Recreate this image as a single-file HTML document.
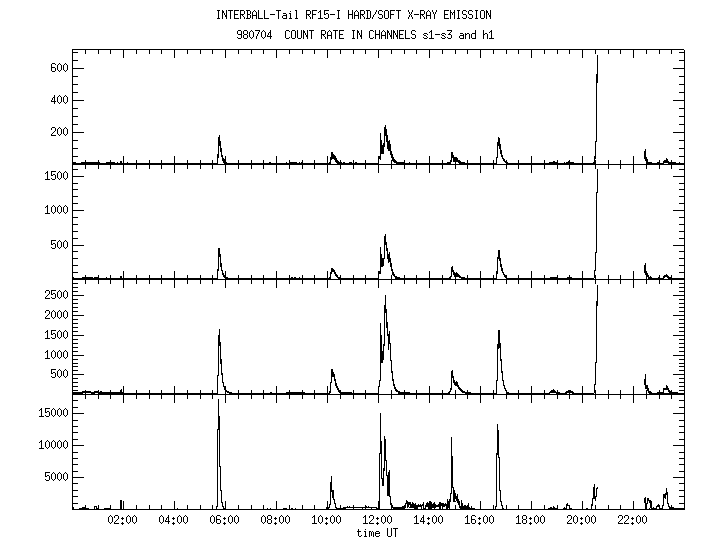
<!DOCTYPE html>
<html lang="en">
<head>
<meta charset="utf-8">
<title>INTERBALL-Tail RF15-I HARD/SOFT X-RAY EMISSION</title>
<style>
html,body{margin:0;padding:0;background:#fff;}
body{width:720px;height:550px;overflow:hidden;font-family:"Liberation Mono",monospace;}
svg{display:block;position:absolute;left:0;top:0;}
svg text{font-family:"Liberation Mono",monospace;font-size:10px;fill:#000;fill-opacity:0;white-space:pre;}
</style>
</head>
<body>
<svg width="720" height="550" viewBox="0 0 720 550" shape-rendering="crispEdges">
<rect width="720" height="550" fill="#fff"/>
<g xml:space="preserve">
<text x="216" y="19" textLength="276" lengthAdjust="spacingAndGlyphs">INTERBALL-Tail RF15-I HARD/SOFT X-RAY EMISSION</text>
<text x="237" y="39" textLength="258" lengthAdjust="spacingAndGlyphs">980704  COUNT RATE IN CHANNELS s1-s3 and h1</text>
<text x="357" y="537" textLength="42" lengthAdjust="spacingAndGlyphs">time UT</text>
<text x="108" y="524" textLength="30" lengthAdjust="spacingAndGlyphs">02:00</text>
<text x="159" y="524" textLength="30" lengthAdjust="spacingAndGlyphs">04:00</text>
<text x="210" y="524" textLength="30" lengthAdjust="spacingAndGlyphs">06:00</text>
<text x="261" y="524" textLength="30" lengthAdjust="spacingAndGlyphs">08:00</text>
<text x="312" y="524" textLength="30" lengthAdjust="spacingAndGlyphs">10:00</text>
<text x="363" y="524" textLength="30" lengthAdjust="spacingAndGlyphs">12:00</text>
<text x="414" y="524" textLength="30" lengthAdjust="spacingAndGlyphs">14:00</text>
<text x="465" y="524" textLength="30" lengthAdjust="spacingAndGlyphs">16:00</text>
<text x="516" y="524" textLength="30" lengthAdjust="spacingAndGlyphs">18:00</text>
<text x="567" y="524" textLength="30" lengthAdjust="spacingAndGlyphs">20:00</text>
<text x="618" y="524" textLength="30" lengthAdjust="spacingAndGlyphs">22:00</text>
<text x="51" y="136" textLength="18" lengthAdjust="spacingAndGlyphs">200</text>
<text x="51" y="104" textLength="18" lengthAdjust="spacingAndGlyphs">400</text>
<text x="51" y="72" textLength="18" lengthAdjust="spacingAndGlyphs">600</text>
<text x="51" y="249" textLength="18" lengthAdjust="spacingAndGlyphs">500</text>
<text x="45" y="214" textLength="24" lengthAdjust="spacingAndGlyphs">1000</text>
<text x="45" y="180" textLength="24" lengthAdjust="spacingAndGlyphs">1500</text>
<text x="51" y="378" textLength="18" lengthAdjust="spacingAndGlyphs">500</text>
<text x="45" y="359" textLength="24" lengthAdjust="spacingAndGlyphs">1000</text>
<text x="45" y="339" textLength="24" lengthAdjust="spacingAndGlyphs">1500</text>
<text x="45" y="319" textLength="24" lengthAdjust="spacingAndGlyphs">2000</text>
<text x="45" y="299" textLength="24" lengthAdjust="spacingAndGlyphs">2500</text>
<text x="45" y="481" textLength="24" lengthAdjust="spacingAndGlyphs">5000</text>
<text x="39" y="449" textLength="30" lengthAdjust="spacingAndGlyphs">10000</text>
<text x="39" y="417" textLength="30" lengthAdjust="spacingAndGlyphs">15000</text>
</g>
<path fill="#000" d="M217 10h3v1h-3zM217 18h3v1h-3zM217 429h3v1h-3zM217 515h3v1h-3zM217 523h3v1h-3zM222 10h1v1h-1zM222 13h1v6h-1zM222 157h1v1h-1zM222 271h1v2h-1zM222 375h1v7h-1zM222 503h1v3h-1zM226 10h1v5h-1zM226 17h1v2h-1zM228 10h5v1h-5zM234 10h5v1h-5zM234 18h5v1h-5zM240 10h4v1h-4zM240 14h4v1h-4zM246 10h4v1h-4zM246 18h4v1h-4zM254 10h1v1h-1zM258 10h1v8h-1zM258 32h1v2h-1zM264 10h1v8h-1zM264 31h1v1h-1zM264 37h1v1h-1zM264 516h1v1h-1zM264 522h1v1h-1zM276 10h5v1h-5zM295 10h2v1h-2zM306 10h4v1h-4zM306 14h4v1h-4zM312 10h5v1h-5zM312 523h5v1h-5zM320 10h1v1h-1zM320 12h1v6h-1zM320 515h1v1h-1zM320 523h1v1h-1zM324 10h5v1h-5zM337 10h3v1h-3zM337 18h3v1h-3zM348 10h1v4h-1zM348 15h1v4h-1zM352 10h1v4h-1zM352 15h1v4h-1zM356 10h1v1h-1zM360 10h4v1h-4zM360 14h4v1h-4zM366 10h4v1h-4zM366 18h4v1h-4zM376 10h1v2h-1zM379 10h3v1h-3zM379 14h3v1h-3zM379 18h3v1h-3zM379 453h3v1h-3zM385 10h3v1h-3zM385 18h3v1h-3zM390 10h5v1h-5zM396 10h5v1h-5zM408 10h1v2h-1zM408 17h1v2h-1zM412 10h1v2h-1zM412 17h1v2h-1zM412 502h1v1h-1zM420 10h4v1h-4zM420 14h4v1h-4zM428 10h1v1h-1zM428 517h1v1h-1zM428 519h1v1h-1zM428 522h1v1h-1zM428 524h1v1h-1zM432 10h1v2h-1zM432 517h1v5h-1zM436 10h1v2h-1zM436 517h1v5h-1zM444 10h5v1h-5zM444 18h5v1h-5zM450 10h1v2h-1zM450 13h1v6h-1zM450 32h1v1h-1zM450 390h1v1h-1zM450 494h1v5h-1zM454 10h1v2h-1zM454 13h1v6h-1zM457 10h3v1h-3zM457 18h3v1h-3zM457 501h3v2h-3zM463 10h3v1h-3zM463 14h3v1h-3zM463 18h3v1h-3zM469 10h3v1h-3zM469 14h3v1h-3zM469 18h3v1h-3zM475 10h3v1h-3zM475 18h3v1h-3zM481 10h3v1h-3zM481 18h3v1h-3zM486 10h1v1h-1zM486 13h1v6h-1zM486 516h1v1h-1zM486 522h1v1h-1zM490 10h1v5h-1zM490 17h1v2h-1zM490 516h1v1h-1zM490 522h1v1h-1zM218 11h1v7h-1zM218 146h1v8h-1zM218 257h1v12h-1zM218 346h1v29h-1zM218 399h1v17h-1zM222 11h2v2h-2zM222 158h2v1h-2zM222 273h2v2h-2zM222 382h2v1h-2zM222 506h2v1h-2zM230 11h1v8h-1zM230 515h1v1h-1zM230 523h1v1h-1zM234 11h1v3h-1zM234 15h1v3h-1zM234 517h1v5h-1zM240 11h1v3h-1zM240 15h1v4h-1zM244 11h1v3h-1zM244 17h1v2h-1zM247 11h1v3h-1zM247 15h1v3h-1zM247 31h1v3h-1zM247 35h1v3h-1zM250 11h1v3h-1zM250 15h1v3h-1zM250 31h1v1h-1zM250 37h1v1h-1zM253 11h1v1h-1zM253 32h1v5h-1zM255 11h1v1h-1zM278 11h1v8h-1zM290 11h1v1h-1zM290 14h1v4h-1zM296 11h1v7h-1zM306 11h1v3h-1zM306 15h1v4h-1zM310 11h1v3h-1zM310 17h1v2h-1zM312 11h1v3h-1zM312 15h1v4h-1zM312 517h1v1h-1zM319 11h2v1h-2zM324 11h1v3h-1zM324 17h1v1h-1zM324 36h1v1h-1zM338 11h1v7h-1zM338 515h1v1h-1zM338 523h1v1h-1zM355 11h1v1h-1zM357 11h1v1h-1zM357 30h1v1h-1zM357 33h1v6h-1zM360 11h1v3h-1zM360 15h1v4h-1zM364 11h1v3h-1zM364 17h1v2h-1zM367 11h1v7h-1zM370 11h1v7h-1zM370 521h1v1h-1zM378 11h1v3h-1zM378 17h1v1h-1zM378 50h1v8h-1zM378 159h1v4h-1zM378 165h1v8h-1zM378 274h1v4h-1zM378 280h1v8h-1zM378 387h1v6h-1zM378 395h1v8h-1zM382 11h1v1h-1zM382 15h1v3h-1zM382 31h1v1h-1zM382 516h1v1h-1zM382 522h1v1h-1zM384 11h1v7h-1zM384 31h1v1h-1zM384 136h1v7h-1zM384 245h1v13h-1zM384 313h1v31h-1zM384 436h1v3h-1zM384 461h1v7h-1zM384 516h1v1h-1zM384 522h1v1h-1zM388 11h1v7h-1zM388 262h1v1h-1zM388 344h1v6h-1zM388 516h1v1h-1zM388 522h1v1h-1zM390 11h1v3h-1zM390 15h1v4h-1zM390 262h1v1h-1zM390 344h1v16h-1zM390 497h1v6h-1zM390 516h1v1h-1zM390 522h1v1h-1zM398 11h1v8h-1zM420 11h1v3h-1zM420 15h1v4h-1zM420 504h1v1h-1zM420 520h1v1h-1zM424 11h1v3h-1zM424 17h1v2h-1zM427 11h1v1h-1zM427 34h1v1h-1zM427 37h1v1h-1zM427 502h1v1h-1zM429 11h1v1h-1zM429 32h1v1h-1zM429 50h1v8h-1zM429 156h1v7h-1zM429 165h1v8h-1zM429 271h1v7h-1zM429 280h1v8h-1zM429 386h1v7h-1zM429 395h1v8h-1zM444 11h1v3h-1zM444 15h1v3h-1zM444 36h1v1h-1zM458 11h1v7h-1zM462 11h1v3h-1zM462 17h1v1h-1zM466 11h1v1h-1zM466 15h1v3h-1zM468 11h1v3h-1zM468 17h1v1h-1zM468 503h1v2h-1zM472 11h1v1h-1zM472 15h1v3h-1zM476 11h1v7h-1zM480 11h1v7h-1zM480 50h1v8h-1zM480 156h1v7h-1zM480 165h1v8h-1zM480 271h1v7h-1zM480 280h1v8h-1zM480 386h1v7h-1zM480 395h1v8h-1zM480 501h1v8h-1zM484 11h1v7h-1zM484 516h1v1h-1zM484 522h1v1h-1zM486 11h2v2h-2zM252 12h1v3h-1zM252 16h1v3h-1zM252 31h1v1h-1zM252 37h1v1h-1zM256 12h1v3h-1zM256 16h1v3h-1zM256 36h1v3h-1zM318 12h1v1h-1zM318 517h1v5h-1zM354 12h1v3h-1zM354 16h1v3h-1zM358 12h1v3h-1zM358 16h1v3h-1zM358 529h1v2h-1zM358 532h1v4h-1zM375 12h1v2h-1zM375 30h1v4h-1zM375 35h1v4h-1zM375 532h1v1h-1zM375 534h1v2h-1zM409 12h1v2h-1zM409 15h1v2h-1zM409 162h1v1h-1zM411 12h1v2h-1zM411 15h1v2h-1zM411 31h1v3h-1zM411 37h1v1h-1zM426 12h1v3h-1zM426 16h1v3h-1zM426 36h1v1h-1zM430 12h1v3h-1zM430 16h1v3h-1zM433 12h1v2h-1zM433 516h1v1h-1zM433 522h1v1h-1zM435 12h1v2h-1zM435 516h1v1h-1zM435 522h1v1h-1zM450 12h2v1h-2zM450 160h2v2h-2zM450 276h2v1h-2zM450 388h2v2h-2zM450 493h2v1h-2zM453 12h2v1h-2zM453 272h2v1h-2zM453 380h2v2h-2zM453 490h2v3h-2zM453 499h2v2h-2zM224 13h1v2h-1zM224 517h1v1h-1zM224 519h1v1h-1zM224 522h1v1h-1zM224 524h1v1h-1zM283 13h3v1h-3zM289 13h2v1h-2zM326 13h2v1h-2zM452 13h1v2h-1zM452 266h1v1h-1zM452 370h1v1h-1zM488 13h1v2h-1zM234 14h4v1h-4zM247 14h3v1h-3zM270 14h5v1h-5zM286 14h1v1h-1zM286 16h1v2h-1zM286 162h1v1h-1zM286 516h1v1h-1zM286 522h1v1h-1zM312 14h4v1h-4zM324 14h2v1h-2zM328 14h1v4h-1zM328 31h1v1h-1zM330 14h5v1h-5zM348 14h5v1h-5zM374 14h1v1h-1zM390 14h4v1h-4zM410 14h1v1h-1zM414 14h5v1h-5zM414 523h5v1h-5zM434 14h1v5h-1zM434 502h1v1h-1zM434 508h1v1h-1zM434 515h1v1h-1zM434 523h1v1h-1zM444 14h4v1h-4zM225 15h2v2h-2zM225 390h2v1h-2zM242 15h1v1h-1zM252 15h5v1h-5zM283 15h4v1h-4zM283 18h4v1h-4zM283 508h4v1h-4zM308 15h1v1h-1zM354 15h5v1h-5zM362 15h1v1h-1zM362 508h1v1h-1zM373 15h1v2h-1zM373 31h1v1h-1zM373 37h1v1h-1zM373 516h1v3h-1zM373 532h1v5h-1zM422 15h1v1h-1zM426 15h5v1h-5zM489 15h2v2h-2zM243 16h1v1h-1zM243 31h1v3h-1zM243 35h1v3h-1zM282 16h1v2h-1zM282 516h1v1h-1zM282 522h1v1h-1zM309 16h1v1h-1zM363 16h1v1h-1zM363 517h1v1h-1zM423 16h1v1h-1zM423 34h1v1h-1zM423 37h1v1h-1zM423 502h1v2h-1zM423 506h1v2h-1zM423 515h1v2h-1zM423 518h1v3h-1zM423 522h1v2h-1zM372 17h1v2h-1zM372 519h1v1h-1zM372 531h1v1h-1zM258 18h5v1h-5zM264 18h5v1h-5zM289 18h3v1h-3zM295 18h3v1h-3zM318 18h5v1h-5zM325 18h3v1h-3zM325 518h3v1h-3zM325 523h3v1h-3zM238 30h3v1h-3zM238 38h3v1h-3zM244 30h3v1h-3zM244 34h3v1h-3zM244 38h3v1h-3zM251 30h1v1h-1zM251 38h1v1h-1zM251 50h1v4h-1zM251 160h1v3h-1zM251 165h1v4h-1zM251 275h1v3h-1zM251 280h1v4h-1zM251 390h1v3h-1zM251 395h1v4h-1zM251 505h1v4h-1zM255 30h5v1h-5zM263 30h1v1h-1zM263 38h1v1h-1zM263 50h1v4h-1zM263 160h1v3h-1zM263 165h1v4h-1zM263 275h1v3h-1zM263 280h1v4h-1zM263 390h1v3h-1zM263 395h1v4h-1zM263 505h1v4h-1zM263 515h1v1h-1zM263 523h1v1h-1zM270 30h1v2h-1zM270 33h1v3h-1zM270 37h1v2h-1zM270 508h1v1h-1zM286 30h3v1h-3zM286 38h3v1h-3zM292 30h3v1h-3zM292 38h3v1h-3zM297 30h1v8h-1zM301 30h1v8h-1zM303 30h1v1h-1zM303 33h1v6h-1zM307 30h1v5h-1zM307 37h1v2h-1zM309 30h5v1h-5zM321 30h4v1h-4zM321 34h4v1h-4zM329 30h1v1h-1zM329 505h1v2h-1zM333 30h5v1h-5zM339 30h5v1h-5zM339 38h5v1h-5zM352 30h3v1h-3zM352 38h3v1h-3zM361 30h1v5h-1zM361 37h1v2h-1zM361 535h1v1h-1zM370 30h3v1h-3zM370 38h3v1h-3zM370 515h3v1h-3zM379 30h1v4h-1zM379 35h1v4h-1zM379 381h1v5h-1zM379 454h1v47h-1zM379 532h1v1h-1zM379 535h1v1h-1zM383 30h1v1h-1zM383 346h1v5h-1zM383 471h1v7h-1zM383 515h1v1h-1zM383 523h1v1h-1zM387 30h1v1h-1zM387 33h1v6h-1zM387 251h1v3h-1zM387 328h1v6h-1zM387 517h1v5h-1zM387 528h1v8h-1zM391 30h1v5h-1zM391 37h1v2h-1zM391 50h1v4h-1zM391 161h1v3h-1zM391 165h1v4h-1zM391 267h1v2h-1zM391 275h1v4h-1zM391 280h1v4h-1zM391 361h1v10h-1zM391 390h1v4h-1zM391 395h1v4h-1zM391 508h1v1h-1zM391 517h1v5h-1zM391 528h1v8h-1zM393 30h1v1h-1zM393 33h1v6h-1zM393 381h1v3h-1zM397 30h1v5h-1zM397 37h1v2h-1zM399 30h5v1h-5zM399 38h5v1h-5zM405 30h1v8h-1zM405 504h1v1h-1zM412 30h3v1h-3zM412 34h3v1h-3zM412 38h3v1h-3zM431 30h1v1h-1zM431 32h1v6h-1zM447 30h5v1h-5zM475 30h1v3h-1zM475 34h1v4h-1zM475 516h1v1h-1zM475 520h1v3h-1zM483 30h1v4h-1zM483 35h1v4h-1zM483 517h1v5h-1zM491 30h1v1h-1zM491 32h1v6h-1zM491 515h1v1h-1zM491 523h1v1h-1zM237 31h1v3h-1zM237 37h1v1h-1zM237 516h1v1h-1zM237 522h1v1h-1zM241 31h1v3h-1zM241 35h1v3h-1zM259 31h1v1h-1zM262 31h1v1h-1zM262 37h1v1h-1zM262 516h1v1h-1zM262 522h1v1h-1zM285 31h1v7h-1zM285 517h1v5h-1zM289 31h1v1h-1zM289 37h1v1h-1zM289 50h1v4h-1zM289 160h1v2h-1zM289 165h1v4h-1zM289 275h1v3h-1zM289 280h1v4h-1zM289 390h1v2h-1zM289 395h1v4h-1zM289 505h1v4h-1zM289 517h1v5h-1zM291 31h1v7h-1zM295 31h1v7h-1zM295 508h1v1h-1zM303 31h2v2h-2zM311 31h1v8h-1zM321 31h1v3h-1zM321 35h1v4h-1zM321 516h1v1h-1zM321 522h1v1h-1zM325 31h1v3h-1zM325 37h1v2h-1zM330 31h1v1h-1zM330 160h1v2h-1zM330 274h1v3h-1zM330 383h1v8h-1zM330 492h1v12h-1zM330 517h1v5h-1zM335 31h1v8h-1zM335 381h1v2h-1zM335 504h1v3h-1zM339 31h1v3h-1zM339 35h1v3h-1zM339 516h1v1h-1zM339 522h1v1h-1zM353 31h1v7h-1zM353 50h1v4h-1zM353 160h1v3h-1zM353 165h1v4h-1zM353 275h1v3h-1zM353 280h1v4h-1zM353 390h1v3h-1zM353 395h1v4h-1zM353 505h1v2h-1zM353 508h1v1h-1zM357 31h2v2h-2zM369 31h1v7h-1zM369 516h1v2h-1zM369 522h1v1h-1zM369 532h1v5h-1zM387 31h2v2h-2zM393 31h2v2h-2zM393 275h2v1h-2zM393 384h2v2h-2zM399 31h1v3h-1zM399 35h1v3h-1zM415 31h1v1h-1zM415 35h1v3h-1zM415 503h1v1h-1zM430 31h2v1h-2zM451 31h1v1h-1zM451 35h1v3h-1zM451 158h1v2h-1zM451 272h1v4h-1zM451 378h1v10h-1zM451 437h1v19h-1zM451 488h1v5h-1zM490 31h2v1h-2zM249 32h1v5h-1zM261 32h1v5h-1zM261 517h1v5h-1zM265 32h1v5h-1zM265 517h1v5h-1zM269 32h2v1h-2zM269 162h2v1h-2zM327 32h1v3h-1zM327 36h1v3h-1zM327 50h1v8h-1zM327 156h1v7h-1zM327 165h1v8h-1zM327 271h1v7h-1zM327 280h1v8h-1zM327 386h1v7h-1zM327 395h1v8h-1zM327 501h1v6h-1zM331 32h1v3h-1zM331 36h1v3h-1zM331 377h1v5h-1zM331 476h1v6h-1zM331 516h1v1h-1zM331 522h1v1h-1zM381 32h1v3h-1zM381 36h1v3h-1zM381 454h1v24h-1zM381 517h1v5h-1zM385 32h1v3h-1zM385 36h1v3h-1zM385 125h1v2h-1zM385 234h1v2h-1zM385 295h1v10h-1zM385 517h1v5h-1zM489 32h1v1h-1zM489 517h1v5h-1zM268 33h1v2h-1zM305 33h1v2h-1zM359 33h1v2h-1zM389 33h1v2h-1zM389 140h1v1h-1zM389 252h1v2h-1zM389 331h1v3h-1zM389 470h1v2h-1zM389 515h1v1h-1zM389 523h1v1h-1zM395 33h1v2h-1zM395 529h1v8h-1zM424 33h3v1h-3zM424 38h3v1h-3zM442 33h3v1h-3zM442 38h3v1h-3zM442 506h3v1h-3zM449 33h1v1h-1zM449 508h1v1h-1zM460 33h3v1h-3zM460 390h3v1h-3zM465 33h1v1h-1zM465 35h1v4h-1zM465 517h1v1h-1zM467 33h2v1h-2zM467 505h2v1h-2zM472 33h4v1h-4zM472 38h4v1h-4zM485 33h2v1h-2zM238 34h4v1h-4zM257 34h1v2h-1zM339 34h4v1h-4zM375 34h5v1h-5zM375 533h5v1h-5zM399 34h4v1h-4zM435 34h5v1h-5zM441 34h1v1h-1zM441 37h1v1h-1zM441 516h1v1h-1zM441 522h1v1h-1zM445 34h1v1h-1zM445 37h1v1h-1zM445 503h1v1h-1zM448 34h3v1h-3zM448 38h3v1h-3zM463 34h1v1h-1zM463 36h1v2h-1zM465 34h2v1h-2zM469 34h1v5h-1zM471 34h1v4h-1zM471 506h1v2h-1zM471 516h1v3h-1zM471 520h1v3h-1zM483 34h2v1h-2zM487 34h1v5h-1zM487 517h1v5h-1zM267 35h1v1h-1zM267 508h1v1h-1zM267 516h1v3h-1zM267 520h1v3h-1zM306 35h2v2h-2zM323 35h1v1h-1zM327 35h5v1h-5zM360 35h2v2h-2zM381 35h5v1h-5zM390 35h2v2h-2zM390 151h2v3h-2zM390 263h2v4h-2zM390 360h2v1h-2zM390 503h2v2h-2zM396 35h2v2h-2zM424 35h2v1h-2zM442 35h2v1h-2zM460 35h4v1h-4zM460 38h4v1h-4zM267 36h5v1h-5zM459 36h1v2h-1zM459 505h1v1h-1zM447 37h1v1h-1zM447 499h1v2h-1zM298 38h3v1h-3zM405 38h5v1h-5zM429 38h5v1h-5zM489 38h5v1h-5zM72 49h612v1h-612zM72 50h1v2h-1zM72 53h1v7h-1zM72 61h1v7h-1zM72 69h1v7h-1zM72 77h1v7h-1zM72 85h1v7h-1zM72 93h1v7h-1zM72 101h1v7h-1zM72 109h1v7h-1zM72 117h1v7h-1zM72 125h1v7h-1zM72 133h1v7h-1zM72 141h1v7h-1zM72 149h1v7h-1zM72 157h1v5h-1zM72 165h1v4h-1zM72 170h1v6h-1zM72 177h1v6h-1zM72 184h1v5h-1zM72 190h1v6h-1zM72 197h1v6h-1zM72 204h1v6h-1zM72 211h1v6h-1zM72 218h1v6h-1zM72 225h1v6h-1zM72 232h1v6h-1zM72 239h1v6h-1zM72 246h1v5h-1zM72 252h1v6h-1zM72 259h1v6h-1zM72 266h1v6h-1zM72 273h1v4h-1zM72 280h1v3h-1zM72 284h1v3h-1zM72 288h1v3h-1zM72 292h1v3h-1zM72 296h1v3h-1zM72 300h1v3h-1zM72 304h1v3h-1zM72 308h1v3h-1zM72 312h1v3h-1zM72 316h1v3h-1zM72 320h1v3h-1zM72 324h1v3h-1zM72 328h1v3h-1zM72 332h1v3h-1zM72 336h1v3h-1zM72 340h1v3h-1zM72 344h1v3h-1zM72 348h1v3h-1zM72 352h1v3h-1zM72 356h1v3h-1zM72 360h1v3h-1zM72 364h1v2h-1zM72 367h1v3h-1zM72 371h1v3h-1zM72 375h1v3h-1zM72 379h1v3h-1zM72 383h1v3h-1zM72 387h1v3h-1zM72 391h1v1h-1zM72 395h1v5h-1zM72 401h1v6h-1zM72 408h1v5h-1zM72 414h1v6h-1zM72 421h1v5h-1zM72 427h1v5h-1zM72 433h1v6h-1zM72 440h1v5h-1zM72 446h1v6h-1zM72 453h1v5h-1zM72 459h1v5h-1zM72 465h1v6h-1zM72 472h1v5h-1zM72 478h1v5h-1zM72 484h1v6h-1zM72 491h1v5h-1zM72 497h1v6h-1zM72 504h1v3h-1zM85 50h1v4h-1zM85 160h1v2h-1zM85 165h1v4h-1zM85 275h1v2h-1zM85 280h1v4h-1zM85 390h1v1h-1zM85 393h1v1h-1zM85 395h1v4h-1zM85 505h1v2h-1zM98 50h1v4h-1zM98 160h1v2h-1zM98 165h1v4h-1zM98 275h1v2h-1zM98 280h1v4h-1zM98 390h1v1h-1zM98 395h1v4h-1zM98 505h1v3h-1zM110 50h1v4h-1zM110 160h1v2h-1zM110 165h1v4h-1zM110 275h1v3h-1zM110 280h1v4h-1zM110 390h1v2h-1zM110 395h1v4h-1zM110 505h1v3h-1zM110 515h1v1h-1zM110 523h1v1h-1zM123 50h1v8h-1zM123 156h1v7h-1zM123 165h1v8h-1zM123 271h1v7h-1zM123 280h1v8h-1zM123 386h1v6h-1zM123 395h1v8h-1zM123 501h1v8h-1zM136 50h1v4h-1zM136 160h1v3h-1zM136 165h1v4h-1zM136 275h1v3h-1zM136 280h1v4h-1zM136 390h1v3h-1zM136 395h1v4h-1zM136 505h1v4h-1zM136 517h1v5h-1zM149 50h1v4h-1zM149 160h1v3h-1zM149 165h1v4h-1zM149 275h1v3h-1zM149 280h1v4h-1zM149 390h1v3h-1zM149 395h1v4h-1zM149 505h1v4h-1zM161 50h1v4h-1zM161 160h1v3h-1zM161 165h1v4h-1zM161 275h1v3h-1zM161 280h1v4h-1zM161 390h1v3h-1zM161 395h1v4h-1zM161 505h1v4h-1zM161 515h1v1h-1zM161 523h1v1h-1zM174 50h1v8h-1zM174 156h1v7h-1zM174 165h1v8h-1zM174 271h1v7h-1zM174 280h1v8h-1zM174 386h1v7h-1zM174 395h1v8h-1zM174 501h1v8h-1zM187 50h1v4h-1zM187 160h1v3h-1zM187 165h1v4h-1zM187 275h1v3h-1zM187 280h1v4h-1zM187 390h1v3h-1zM187 395h1v4h-1zM187 505h1v4h-1zM187 517h1v5h-1zM200 50h1v4h-1zM200 160h1v3h-1zM200 165h1v4h-1zM200 275h1v3h-1zM200 280h1v4h-1zM200 390h1v3h-1zM200 395h1v4h-1zM200 505h1v4h-1zM212 50h1v4h-1zM212 160h1v3h-1zM212 165h1v4h-1zM212 275h1v3h-1zM212 280h1v4h-1zM212 390h1v3h-1zM212 395h1v4h-1zM212 505h1v4h-1zM212 515h1v1h-1zM212 523h1v1h-1zM225 50h1v8h-1zM225 156h1v3h-1zM225 165h1v8h-1zM225 271h1v4h-1zM225 280h1v8h-1zM225 392h1v2h-1zM225 395h1v8h-1zM225 501h1v7h-1zM238 50h1v4h-1zM238 160h1v3h-1zM238 165h1v4h-1zM238 275h1v3h-1zM238 280h1v4h-1zM238 390h1v3h-1zM238 395h1v4h-1zM238 505h1v4h-1zM238 517h1v5h-1zM276 50h1v8h-1zM276 156h1v7h-1zM276 165h1v8h-1zM276 271h1v7h-1zM276 280h1v8h-1zM276 386h1v7h-1zM276 395h1v8h-1zM276 501h1v8h-1zM302 50h1v4h-1zM302 160h1v2h-1zM302 165h1v4h-1zM302 275h1v3h-1zM302 280h1v4h-1zM302 390h1v2h-1zM302 395h1v4h-1zM302 505h1v4h-1zM314 50h1v4h-1zM314 160h1v3h-1zM314 165h1v4h-1zM314 275h1v3h-1zM314 280h1v4h-1zM314 390h1v3h-1zM314 395h1v4h-1zM314 505h1v4h-1zM314 515h1v1h-1zM314 517h1v6h-1zM340 50h1v4h-1zM340 160h1v2h-1zM340 165h1v4h-1zM340 275h1v2h-1zM340 280h1v4h-1zM340 395h1v4h-1zM340 505h1v3h-1zM340 517h1v5h-1zM365 50h1v4h-1zM365 160h1v3h-1zM365 165h1v4h-1zM365 275h1v3h-1zM365 280h1v4h-1zM365 390h1v3h-1zM365 395h1v4h-1zM365 505h1v1h-1zM365 508h1v1h-1zM365 515h1v1h-1zM365 517h1v6h-1zM365 529h1v1h-1zM365 532h1v4h-1zM404 50h1v4h-1zM404 160h1v2h-1zM404 165h1v4h-1zM404 275h1v3h-1zM404 280h1v4h-1zM404 390h1v2h-1zM404 395h1v4h-1zM416 50h1v4h-1zM416 160h1v3h-1zM416 165h1v4h-1zM416 275h1v3h-1zM416 280h1v4h-1zM416 390h1v3h-1zM416 395h1v4h-1zM416 515h1v1h-1zM416 517h1v6h-1zM442 50h1v4h-1zM442 160h1v3h-1zM442 165h1v4h-1zM442 275h1v3h-1zM442 280h1v4h-1zM442 390h1v3h-1zM442 395h1v4h-1zM442 507h1v2h-1zM442 517h1v5h-1zM455 50h1v4h-1zM455 162h1v2h-1zM455 165h1v4h-1zM455 277h1v2h-1zM455 280h1v4h-1zM455 390h1v4h-1zM455 395h1v4h-1zM455 505h1v4h-1zM467 50h1v4h-1zM467 160h1v3h-1zM467 165h1v4h-1zM467 275h1v3h-1zM467 280h1v4h-1zM467 390h1v2h-1zM467 395h1v4h-1zM467 515h1v1h-1zM467 517h1v6h-1zM493 50h1v4h-1zM493 160h1v3h-1zM493 165h1v4h-1zM493 275h1v3h-1zM493 280h1v4h-1zM493 390h1v3h-1zM493 395h1v4h-1zM493 505h1v4h-1zM493 517h1v5h-1zM506 50h1v4h-1zM506 160h1v1h-1zM506 165h1v4h-1zM506 280h1v4h-1zM506 391h1v1h-1zM506 395h1v4h-1zM506 505h1v4h-1zM518 50h1v4h-1zM518 160h1v3h-1zM518 165h1v4h-1zM518 275h1v3h-1zM518 280h1v4h-1zM518 390h1v3h-1zM518 395h1v4h-1zM518 505h1v4h-1zM518 515h1v1h-1zM518 517h1v6h-1zM531 50h1v8h-1zM531 156h1v7h-1zM531 165h1v8h-1zM531 271h1v7h-1zM531 280h1v8h-1zM531 386h1v7h-1zM531 395h1v8h-1zM531 501h1v8h-1zM544 50h1v4h-1zM544 160h1v3h-1zM544 165h1v4h-1zM544 275h1v3h-1zM544 280h1v4h-1zM544 390h1v3h-1zM544 395h1v4h-1zM544 505h1v4h-1zM544 517h1v5h-1zM557 50h1v4h-1zM557 160h1v2h-1zM557 165h1v4h-1zM557 275h1v2h-1zM557 280h1v4h-1zM557 390h1v2h-1zM557 395h1v4h-1zM557 505h1v3h-1zM569 50h1v4h-1zM569 160h1v1h-1zM569 165h1v4h-1zM569 275h1v2h-1zM569 280h1v4h-1zM569 393h1v1h-1zM569 395h1v4h-1zM569 506h1v2h-1zM569 520h1v1h-1zM582 50h1v8h-1zM582 156h1v7h-1zM582 165h1v8h-1zM582 271h1v7h-1zM582 280h1v8h-1zM582 386h1v7h-1zM582 395h1v8h-1zM582 501h1v8h-1zM595 50h1v4h-1zM595 142h1v14h-1zM595 165h1v4h-1zM595 253h1v17h-1zM595 278h1v1h-1zM595 280h1v4h-1zM595 363h1v21h-1zM595 393h1v1h-1zM595 395h1v4h-1zM595 499h1v2h-1zM595 505h1v4h-1zM595 517h1v5h-1zM608 50h1v4h-1zM608 160h1v4h-1zM608 165h1v4h-1zM608 275h1v4h-1zM608 280h1v4h-1zM608 390h1v4h-1zM608 395h1v4h-1zM608 505h1v4h-1zM620 50h1v4h-1zM620 160h1v4h-1zM620 165h1v4h-1zM620 275h1v4h-1zM620 280h1v4h-1zM620 390h1v4h-1zM620 395h1v4h-1zM620 505h1v4h-1zM620 520h1v1h-1zM633 50h1v8h-1zM633 156h1v8h-1zM633 165h1v8h-1zM633 271h1v8h-1zM633 280h1v8h-1zM633 386h1v8h-1zM633 395h1v8h-1zM633 501h1v8h-1zM646 50h1v4h-1zM646 165h1v4h-1zM646 277h1v2h-1zM646 280h1v4h-1zM646 391h1v3h-1zM646 395h1v4h-1zM646 517h1v5h-1zM659 50h1v4h-1zM659 160h1v2h-1zM659 165h1v4h-1zM659 275h1v2h-1zM659 280h1v4h-1zM659 390h1v2h-1zM659 395h1v4h-1zM659 507h1v1h-1zM671 50h1v4h-1zM671 160h1v2h-1zM671 165h1v4h-1zM671 275h1v2h-1zM671 280h1v4h-1zM671 390h1v1h-1zM671 395h1v4h-1zM671 505h1v2h-1zM684 50h1v2h-1zM684 53h1v7h-1zM684 61h1v7h-1zM684 69h1v7h-1zM684 77h1v7h-1zM684 85h1v7h-1zM684 93h1v7h-1zM684 101h1v7h-1zM684 109h1v7h-1zM684 117h1v7h-1zM684 125h1v7h-1zM684 133h1v7h-1zM684 141h1v7h-1zM684 149h1v7h-1zM684 157h1v6h-1zM684 165h1v4h-1zM684 170h1v6h-1zM684 177h1v6h-1zM684 184h1v5h-1zM684 190h1v6h-1zM684 197h1v6h-1zM684 204h1v6h-1zM684 211h1v6h-1zM684 218h1v6h-1zM684 225h1v6h-1zM684 232h1v6h-1zM684 239h1v6h-1zM684 246h1v5h-1zM684 252h1v6h-1zM684 259h1v6h-1zM684 266h1v6h-1zM684 273h1v5h-1zM684 280h1v3h-1zM684 284h1v3h-1zM684 288h1v3h-1zM684 292h1v3h-1zM684 296h1v3h-1zM684 300h1v3h-1zM684 304h1v3h-1zM684 308h1v3h-1zM684 312h1v3h-1zM684 316h1v3h-1zM684 320h1v3h-1zM684 324h1v3h-1zM684 328h1v3h-1zM684 332h1v3h-1zM684 336h1v3h-1zM684 340h1v3h-1zM684 344h1v3h-1zM684 348h1v3h-1zM684 352h1v3h-1zM684 356h1v3h-1zM684 360h1v3h-1zM684 364h1v2h-1zM684 367h1v3h-1zM684 371h1v3h-1zM684 375h1v3h-1zM684 379h1v3h-1zM684 383h1v3h-1zM684 387h1v3h-1zM684 391h1v2h-1zM684 395h1v5h-1zM684 401h1v6h-1zM684 408h1v5h-1zM684 414h1v6h-1zM684 421h1v5h-1zM684 427h1v5h-1zM684 433h1v6h-1zM684 440h1v5h-1zM684 446h1v6h-1zM684 453h1v5h-1zM684 459h1v5h-1zM684 465h1v6h-1zM684 472h1v5h-1zM684 478h1v5h-1zM684 484h1v6h-1zM684 491h1v5h-1zM684 497h1v6h-1zM684 504h1v4h-1zM72 52h6v1h-6zM72 60h6v1h-6zM72 76h6v1h-6zM72 84h6v1h-6zM72 92h6v1h-6zM72 108h6v1h-6zM72 116h6v1h-6zM72 124h6v1h-6zM72 140h6v1h-6zM72 148h6v1h-6zM72 156h6v1h-6zM72 169h6v1h-6zM72 183h6v1h-6zM72 189h6v1h-6zM72 196h6v1h-6zM72 203h6v1h-6zM72 217h6v1h-6zM72 224h6v1h-6zM72 231h6v1h-6zM72 238h6v1h-6zM72 251h6v1h-6zM72 258h6v1h-6zM72 265h6v1h-6zM72 272h6v1h-6zM72 283h6v1h-6zM72 287h6v1h-6zM72 291h6v1h-6zM72 299h6v1h-6zM72 303h6v1h-6zM72 307h6v1h-6zM72 311h6v1h-6zM72 319h6v1h-6zM72 323h6v1h-6zM72 327h6v1h-6zM72 331h6v1h-6zM72 339h6v1h-6zM72 343h6v1h-6zM72 347h6v1h-6zM72 351h6v1h-6zM72 359h6v1h-6zM72 363h6v1h-6zM72 366h6v1h-6zM72 370h6v1h-6zM72 378h6v1h-6zM72 382h6v1h-6zM72 386h6v1h-6zM72 390h6v1h-6zM72 400h6v1h-6zM72 407h6v1h-6zM72 420h6v1h-6zM72 426h6v1h-6zM72 432h6v1h-6zM72 439h6v1h-6zM72 452h6v1h-6zM72 458h6v1h-6zM72 464h6v1h-6zM72 471h6v1h-6zM72 483h6v1h-6zM72 490h6v1h-6zM72 496h6v1h-6zM72 503h6v1h-6zM679 52h6v1h-6zM679 60h6v1h-6zM679 76h6v1h-6zM679 84h6v1h-6zM679 92h6v1h-6zM679 108h6v1h-6zM679 116h6v1h-6zM679 124h6v1h-6zM679 140h6v1h-6zM679 148h6v1h-6zM679 156h6v1h-6zM679 169h6v1h-6zM679 183h6v1h-6zM679 189h6v1h-6zM679 196h6v1h-6zM679 203h6v1h-6zM679 217h6v1h-6zM679 224h6v1h-6zM679 231h6v1h-6zM679 238h6v1h-6zM679 251h6v1h-6zM679 258h6v1h-6zM679 265h6v1h-6zM679 272h6v1h-6zM679 283h6v1h-6zM679 287h6v1h-6zM679 291h6v1h-6zM679 299h6v1h-6zM679 303h6v1h-6zM679 307h6v1h-6zM679 311h6v1h-6zM679 319h6v1h-6zM679 323h6v1h-6zM679 327h6v1h-6zM679 331h6v1h-6zM679 339h6v1h-6zM679 343h6v1h-6zM679 347h6v1h-6zM679 351h6v1h-6zM679 359h6v1h-6zM679 363h6v1h-6zM679 366h6v1h-6zM679 370h6v1h-6zM679 378h6v1h-6zM679 382h6v1h-6zM679 386h6v1h-6zM679 390h6v1h-6zM679 400h6v1h-6zM679 407h6v1h-6zM679 420h6v1h-6zM679 426h6v1h-6zM679 432h6v1h-6zM679 439h6v1h-6zM679 452h6v1h-6zM679 458h6v1h-6zM679 464h6v1h-6zM679 471h6v1h-6zM679 483h6v1h-6zM679 490h6v1h-6zM679 496h6v1h-6zM679 503h6v1h-6zM597 55h1v19h-1zM597 169h1v23h-1zM597 285h1v16h-1zM597 487h1v1h-1zM52 63h3v1h-3zM52 71h3v1h-3zM52 127h3v1h-3zM52 179h3v1h-3zM52 248h3v1h-3zM52 298h3v1h-3zM52 338h3v1h-3zM52 377h3v1h-3zM59 63h1v1h-1zM59 71h1v1h-1zM59 95h1v1h-1zM59 103h1v1h-1zM59 127h1v1h-1zM59 135h1v1h-1zM59 171h1v1h-1zM59 179h1v1h-1zM59 205h1v1h-1zM59 213h1v1h-1zM59 240h1v1h-1zM59 248h1v1h-1zM59 290h1v1h-1zM59 298h1v1h-1zM59 310h1v1h-1zM59 318h1v1h-1zM59 330h1v1h-1zM59 338h1v1h-1zM59 350h1v1h-1zM59 358h1v1h-1zM59 369h1v1h-1zM59 377h1v1h-1zM59 408h1v1h-1zM59 416h1v1h-1zM59 440h1v1h-1zM59 448h1v1h-1zM59 472h1v1h-1zM59 480h1v1h-1zM65 63h1v1h-1zM65 71h1v1h-1zM65 95h1v1h-1zM65 103h1v1h-1zM65 127h1v1h-1zM65 135h1v1h-1zM65 171h1v1h-1zM65 179h1v1h-1zM65 205h1v1h-1zM65 213h1v1h-1zM65 240h1v1h-1zM65 248h1v1h-1zM65 290h1v1h-1zM65 298h1v1h-1zM65 310h1v1h-1zM65 318h1v1h-1zM65 330h1v1h-1zM65 338h1v1h-1zM65 350h1v1h-1zM65 358h1v1h-1zM65 369h1v1h-1zM65 377h1v1h-1zM65 408h1v1h-1zM65 416h1v1h-1zM65 440h1v1h-1zM65 448h1v1h-1zM65 472h1v1h-1zM65 480h1v1h-1zM51 64h1v3h-1zM51 68h1v3h-1zM51 100h1v1h-1zM51 128h1v2h-1zM51 134h1v1h-1zM51 172h1v3h-1zM51 178h1v1h-1zM51 207h1v5h-1zM51 241h1v3h-1zM51 247h1v1h-1zM51 291h1v3h-1zM51 297h1v1h-1zM51 312h1v5h-1zM51 331h1v3h-1zM51 337h1v1h-1zM51 352h1v5h-1zM51 370h1v3h-1zM51 376h1v1h-1zM51 410h1v5h-1zM51 442h1v5h-1zM51 474h1v5h-1zM55 64h1v1h-1zM55 68h1v3h-1zM55 128h1v3h-1zM55 175h1v4h-1zM55 207h1v5h-1zM55 244h1v4h-1zM55 294h1v4h-1zM55 312h1v5h-1zM55 334h1v4h-1zM55 352h1v5h-1zM55 373h1v4h-1zM55 410h1v5h-1zM55 442h1v5h-1zM55 474h1v5h-1zM58 64h1v1h-1zM58 70h1v1h-1zM58 96h1v1h-1zM58 102h1v1h-1zM58 128h1v1h-1zM58 134h1v1h-1zM58 172h1v1h-1zM58 178h1v1h-1zM58 206h1v1h-1zM58 212h1v1h-1zM58 241h1v1h-1zM58 247h1v1h-1zM58 291h1v1h-1zM58 297h1v1h-1zM58 311h1v1h-1zM58 317h1v1h-1zM58 331h1v1h-1zM58 337h1v1h-1zM58 351h1v1h-1zM58 357h1v1h-1zM58 370h1v1h-1zM58 376h1v1h-1zM58 409h1v1h-1zM58 415h1v1h-1zM58 441h1v1h-1zM58 447h1v1h-1zM58 473h1v1h-1zM58 479h1v1h-1zM60 64h1v1h-1zM60 70h1v1h-1zM60 96h1v1h-1zM60 102h1v1h-1zM60 128h1v1h-1zM60 134h1v1h-1zM60 172h1v1h-1zM60 178h1v1h-1zM60 206h1v1h-1zM60 212h1v1h-1zM60 241h1v1h-1zM60 247h1v1h-1zM60 291h1v1h-1zM60 297h1v1h-1zM60 311h1v1h-1zM60 317h1v1h-1zM60 331h1v1h-1zM60 337h1v1h-1zM60 351h1v1h-1zM60 357h1v1h-1zM60 370h1v1h-1zM60 376h1v1h-1zM60 409h1v1h-1zM60 415h1v1h-1zM60 441h1v1h-1zM60 447h1v1h-1zM60 473h1v1h-1zM60 479h1v1h-1zM64 64h1v1h-1zM64 70h1v1h-1zM64 96h1v1h-1zM64 102h1v1h-1zM64 128h1v1h-1zM64 134h1v1h-1zM64 172h1v1h-1zM64 178h1v1h-1zM64 206h1v1h-1zM64 212h1v1h-1zM64 241h1v1h-1zM64 247h1v1h-1zM64 291h1v1h-1zM64 297h1v1h-1zM64 311h1v1h-1zM64 317h1v1h-1zM64 331h1v1h-1zM64 337h1v1h-1zM64 351h1v1h-1zM64 357h1v1h-1zM64 370h1v1h-1zM64 376h1v1h-1zM64 409h1v1h-1zM64 415h1v1h-1zM64 441h1v1h-1zM64 447h1v1h-1zM64 473h1v1h-1zM64 479h1v1h-1zM66 64h1v1h-1zM66 70h1v1h-1zM66 96h1v1h-1zM66 102h1v1h-1zM66 128h1v1h-1zM66 134h1v1h-1zM66 172h1v1h-1zM66 178h1v1h-1zM66 206h1v1h-1zM66 212h1v1h-1zM66 241h1v1h-1zM66 247h1v1h-1zM66 291h1v1h-1zM66 297h1v1h-1zM66 311h1v1h-1zM66 317h1v1h-1zM66 331h1v1h-1zM66 337h1v1h-1zM66 351h1v1h-1zM66 357h1v1h-1zM66 370h1v1h-1zM66 376h1v1h-1zM66 409h1v1h-1zM66 415h1v1h-1zM66 441h1v1h-1zM66 447h1v1h-1zM66 473h1v1h-1zM66 479h1v1h-1zM57 65h1v5h-1zM57 97h1v5h-1zM57 129h1v5h-1zM57 173h1v5h-1zM57 207h1v5h-1zM57 242h1v5h-1zM57 292h1v5h-1zM57 312h1v5h-1zM57 332h1v5h-1zM57 352h1v5h-1zM57 371h1v5h-1zM57 410h1v5h-1zM57 442h1v5h-1zM57 474h1v5h-1zM61 65h1v5h-1zM61 97h1v5h-1zM61 129h1v5h-1zM61 173h1v5h-1zM61 207h1v5h-1zM61 242h1v5h-1zM61 292h1v5h-1zM61 312h1v5h-1zM61 332h1v5h-1zM61 352h1v5h-1zM61 371h1v5h-1zM61 410h1v5h-1zM61 442h1v5h-1zM61 474h1v5h-1zM63 65h1v5h-1zM63 97h1v5h-1zM63 129h1v5h-1zM63 173h1v5h-1zM63 207h1v5h-1zM63 242h1v5h-1zM63 292h1v5h-1zM63 312h1v5h-1zM63 332h1v5h-1zM63 352h1v5h-1zM63 371h1v5h-1zM63 410h1v5h-1zM63 442h1v5h-1zM63 474h1v5h-1zM67 65h1v5h-1zM67 97h1v5h-1zM67 129h1v5h-1zM67 173h1v5h-1zM67 207h1v5h-1zM67 242h1v5h-1zM67 292h1v5h-1zM67 312h1v5h-1zM67 332h1v5h-1zM67 352h1v5h-1zM67 371h1v5h-1zM67 410h1v5h-1zM67 442h1v5h-1zM67 474h1v5h-1zM51 67h4v1h-4zM72 68h12v1h-12zM72 100h12v1h-12zM72 132h12v1h-12zM72 176h12v1h-12zM72 210h12v1h-12zM72 245h12v1h-12zM72 295h12v1h-12zM72 315h12v1h-12zM72 335h12v1h-12zM72 355h12v1h-12zM72 374h12v1h-12zM72 413h12v1h-12zM72 445h12v1h-12zM72 477h12v1h-12zM673 68h12v1h-12zM673 100h12v1h-12zM673 132h12v1h-12zM673 176h12v1h-12zM673 210h12v1h-12zM673 245h12v1h-12zM673 295h12v1h-12zM673 315h12v1h-12zM673 335h12v1h-12zM673 355h12v1h-12zM673 374h12v1h-12zM673 413h12v1h-12zM673 445h12v1h-12zM673 477h12v1h-12zM596 74h2v9h-2zM596 192h2v1h-2zM596 301h2v5h-2zM596 488h2v1h-2zM596 83h1v58h-1zM596 193h1v59h-1zM596 306h1v56h-1zM596 489h1v7h-1zM54 95h1v2h-1zM54 98h1v3h-1zM54 102h1v2h-1zM54 131h1v1h-1zM54 206h1v1h-1zM54 212h1v1h-1zM54 311h1v1h-1zM54 317h1v1h-1zM54 351h1v1h-1zM54 357h1v1h-1zM54 409h1v1h-1zM54 415h1v1h-1zM54 441h1v1h-1zM54 447h1v1h-1zM54 473h1v1h-1zM54 479h1v1h-1zM53 97h2v1h-2zM53 174h2v1h-2zM53 243h2v1h-2zM53 293h2v1h-2zM53 333h2v1h-2zM53 372h2v1h-2zM52 98h1v2h-1zM52 133h1v1h-1zM52 206h1v1h-1zM52 212h1v1h-1zM52 311h1v1h-1zM52 317h1v1h-1zM52 351h1v1h-1zM52 357h1v1h-1zM52 409h1v1h-1zM52 415h1v1h-1zM52 441h1v1h-1zM52 447h1v1h-1zM52 473h1v1h-1zM52 479h1v1h-1zM51 101h5v1h-5zM51 135h5v1h-5zM51 171h5v1h-5zM51 240h5v1h-5zM51 290h5v1h-5zM51 330h5v1h-5zM51 369h5v1h-5zM384 127h2v2h-2zM384 236h2v6h-2zM384 305h2v4h-2zM384 439h2v21h-2zM384 129h3v6h-3zM384 242h3v3h-3zM384 309h3v4h-3zM384 460h3v1h-3zM53 132h1v1h-1zM53 205h1v1h-1zM53 213h1v1h-1zM53 310h1v1h-1zM53 318h1v1h-1zM53 350h1v1h-1zM53 358h1v1h-1zM53 408h1v1h-1zM53 416h1v1h-1zM53 440h1v1h-1zM53 448h1v1h-1zM53 472h1v1h-1zM53 480h1v1h-1zM380 133h1v7h-1zM380 154h1v2h-1zM380 159h1v1h-1zM380 247h1v7h-1zM380 267h1v4h-1zM380 323h1v12h-1zM380 363h1v17h-1zM380 413h1v28h-1zM219 135h1v2h-1zM219 329h1v6h-1zM219 430h1v36h-1zM384 135h4v1h-4zM386 136h2v5h-2zM386 248h2v3h-2zM386 322h2v6h-2zM218 137h2v4h-2zM218 248h2v6h-2zM218 335h2v7h-2zM218 416h2v13h-2zM498 137h1v1h-1zM498 455h1v2h-1zM498 138h2v4h-2zM498 250h2v7h-2zM498 330h2v13h-2zM498 457h2v1h-2zM380 140h2v5h-2zM380 254h2v4h-2zM380 335h2v16h-2zM380 441h2v12h-2zM218 141h3v5h-3zM218 254h3v3h-3zM218 342h3v4h-3zM386 141h4v1h-4zM386 475h4v1h-4zM595 141h2v1h-2zM595 252h2v1h-2zM595 362h2v1h-2zM387 142h3v2h-3zM387 254h3v4h-3zM387 334h3v2h-3zM387 476h3v20h-3zM497 142h3v2h-3zM497 257h3v1h-3zM383 143h2v2h-2zM383 344h2v2h-2zM383 468h2v3h-2zM387 144h4v5h-4zM387 258h4v1h-4zM497 144h4v2h-4zM497 258h4v1h-4zM497 344h4v4h-4zM380 145h5v2h-5zM380 258h5v1h-5zM220 146h1v2h-1zM220 257h1v6h-1zM220 346h1v13h-1zM220 467h1v23h-1zM220 516h1v1h-1zM220 520h1v3h-1zM497 146h1v11h-1zM497 259h1v12h-1zM497 349h1v31h-1zM497 424h1v6h-1zM499 146h2v3h-2zM499 259h2v2h-2zM499 490h2v1h-2zM380 147h4v7h-4zM380 259h4v7h-4zM380 351h4v9h-4zM220 148h2v4h-2zM220 263h2v4h-2zM220 359h2v5h-2zM220 490h2v1h-2zM388 149h3v2h-3zM388 259h3v3h-3zM388 343h3v1h-3zM388 536h3v1h-3zM500 149h1v1h-1zM500 261h1v3h-1zM500 348h1v11h-1zM500 491h1v10h-1zM645 149h1v2h-1zM645 263h1v2h-1zM645 374h1v5h-1zM645 497h1v1h-1zM645 516h1v1h-1zM645 522h1v1h-1zM500 150h2v4h-2zM500 264h2v3h-2zM500 359h2v2h-2zM500 501h2v1h-2zM644 151h2v6h-2zM644 265h2v6h-2zM644 379h2v6h-2zM644 498h2v5h-2zM221 152h1v3h-1zM221 267h1v3h-1zM221 364h1v9h-1zM221 491h1v11h-1zM331 152h2v2h-2zM331 268h2v1h-2zM331 369h2v3h-2zM451 152h2v3h-2zM451 267h2v3h-2zM451 371h2v5h-2zM451 456h2v31h-2zM217 154h2v4h-2zM217 269h2v2h-2zM217 375h2v1h-2zM331 154h3v1h-3zM331 269h3v1h-3zM331 372h3v2h-3zM390 154h3v1h-3zM501 154h1v1h-1zM501 267h1v1h-1zM501 361h1v10h-1zM501 502h1v3h-1zM221 155h2v2h-2zM221 270h2v1h-2zM221 373h2v2h-2zM221 502h2v1h-2zM331 155h4v1h-4zM331 270h4v2h-4zM331 374h4v3h-4zM391 155h2v2h-2zM391 269h2v2h-2zM391 371h2v2h-2zM391 505h2v2h-2zM451 155h3v2h-3zM451 270h3v2h-3zM451 376h3v2h-3zM451 487h3v1h-3zM501 155h2v2h-2zM501 268h2v3h-2zM501 371h2v2h-2zM501 505h2v1h-2zM331 156h5v1h-5zM378 156h3v3h-3zM378 271h3v3h-3zM594 156h2v3h-2zM594 160h2v2h-2zM594 270h2v1h-2zM594 275h2v3h-2zM594 384h2v1h-2zM594 390h2v3h-2zM330 157h6v1h-6zM391 157h3v1h-3zM451 157h6v1h-6zM496 157h2v1h-2zM496 271h2v3h-2zM496 380h2v1h-2zM502 157h1v1h-1zM502 271h1v1h-1zM502 373h1v7h-1zM502 506h1v2h-1zM644 157h3v2h-3zM644 271h3v2h-3zM217 158h1v5h-1zM217 271h1v7h-1zM217 376h1v17h-1zM217 430h1v76h-1zM330 158h7v1h-7zM392 158h2v1h-2zM392 272h2v2h-2zM392 379h2v2h-2zM453 158h5v2h-5zM453 273h5v1h-5zM453 382h5v1h-5zM453 496h5v3h-5zM496 158h1v5h-1zM496 274h1v4h-1zM496 381h1v12h-1zM496 455h1v51h-1zM502 158h2v1h-2zM502 272h2v1h-2zM502 380h2v1h-2zM502 508h2v1h-2zM666 158h1v1h-1zM666 274h1v1h-1zM666 385h1v1h-1zM666 488h1v4h-1zM222 159h4v2h-4zM330 159h2v1h-2zM330 272h2v2h-2zM330 382h2v1h-2zM330 482h2v8h-2zM334 159h3v1h-3zM392 159h3v1h-3zM392 274h3v1h-3zM503 159h2v2h-2zM503 274h2v1h-2zM503 385h2v1h-2zM594 159h1v1h-1zM594 271h1v4h-1zM594 385h1v5h-1zM594 484h1v3h-1zM594 516h1v1h-1zM594 522h1v1h-1zM645 159h3v2h-3zM645 273h3v2h-3zM645 385h3v3h-3zM645 503h3v1h-3zM666 159h2v1h-2zM666 386h2v2h-2zM666 492h2v1h-2zM335 160h3v1h-3zM335 275h3v1h-3zM391 160h5v1h-5zM453 160h7v1h-7zM664 160h4v1h-4zM664 275h4v1h-4zM120 161h2v2h-2zM120 276h2v2h-2zM120 390h2v2h-2zM120 500h2v9h-2zM223 161h3v1h-3zM223 275h3v2h-3zM223 386h3v1h-3zM223 508h3v1h-3zM223 518h3v1h-3zM223 523h3v1h-3zM335 161h4v1h-4zM393 161h4v1h-4zM453 161h8v1h-8zM504 161h3v1h-3zM504 275h3v2h-3zM553 161h2v1h-2zM553 507h2v1h-2zM568 161h2v1h-2zM646 161h2v1h-2zM663 161h6v1h-6zM663 276h6v1h-6zM663 388h6v2h-6zM72 162h4v1h-4zM81 162h19v1h-19zM106 162h9v1h-9zM117 162h1v1h-1zM117 519h1v1h-1zM127 162h1v1h-1zM127 516h1v1h-1zM127 522h1v1h-1zM223 162h4v1h-4zM289 162h8v1h-8zM299 162h1v1h-1zM299 277h1v1h-1zM301 162h2v1h-2zM329 162h2v1h-2zM329 277h2v1h-2zM329 391h2v2h-2zM329 504h2v1h-2zM336 162h6v1h-6zM343 162h2v1h-2zM349 162h3v1h-3zM355 162h2v1h-2zM394 162h11v1h-11zM447 162h4v1h-4zM447 501h4v1h-4zM458 162h7v1h-7zM505 162h3v1h-3zM549 162h9v1h-9zM564 162h1v1h-1zM564 507h1v1h-1zM566 162h8v1h-8zM593 162h3v1h-3zM593 497h3v1h-3zM646 162h6v1h-6zM657 162h3v1h-3zM657 505h3v1h-3zM663 162h13v1h-13zM679 162h1v1h-1zM72 163h146v1h-146zM72 278h146v1h-146zM224 163h107v1h-107zM337 163h42v1h-42zM396 163h55v1h-55zM459 163h38v1h-38zM506 163h90v1h-90zM646 163h18v1h-18zM668 163h17v1h-17zM668 278h17v1h-17zM72 164h613v1h-613zM72 279h613v1h-613zM72 394h613v1h-613zM72 509h613v1h-613zM47 171h1v1h-1zM47 173h1v6h-1zM47 205h1v1h-1zM47 207h1v6h-1zM47 295h1v1h-1zM47 315h1v1h-1zM47 330h1v1h-1zM47 332h1v6h-1zM47 350h1v1h-1zM47 352h1v6h-1zM47 440h1v1h-1zM47 448h1v1h-1zM46 172h2v1h-2zM46 206h2v1h-2zM46 331h2v1h-2zM46 351h2v1h-2zM45 173h1v1h-1zM45 207h1v1h-1zM45 291h1v2h-1zM45 297h1v1h-1zM45 311h1v2h-1zM45 317h1v1h-1zM45 332h1v1h-1zM45 352h1v1h-1zM45 409h1v3h-1zM45 415h1v1h-1zM45 442h1v5h-1zM45 473h1v3h-1zM45 479h1v1h-1zM51 175h2v1h-2zM51 244h2v1h-2zM51 294h2v1h-2zM51 334h2v1h-2zM51 373h2v1h-2zM45 179h5v1h-5zM45 213h5v1h-5zM45 298h5v1h-5zM45 318h5v1h-5zM45 338h5v1h-5zM45 358h5v1h-5zM45 408h5v1h-5zM45 472h5v1h-5zM386 245h1v3h-1zM386 313h1v9h-1zM386 461h1v14h-1zM380 266h3v1h-3zM380 360h3v3h-3zM392 271h1v1h-1zM392 373h1v6h-1zM334 272h2v2h-2zM334 379h2v2h-2zM334 503h2v1h-2zM456 272h1v1h-1zM456 381h1v1h-1zM503 273h1v1h-1zM503 381h1v4h-1zM335 274h2v1h-2zM335 383h2v3h-2zM335 507h2v1h-2zM453 274h6v1h-6zM454 275h6v1h-6zM646 275h3v2h-3zM646 390h3v1h-3zM336 276h2v1h-2zM336 386h2v2h-2zM394 276h3v1h-3zM454 276h7v1h-7zM650 276h1v1h-1zM72 277h2v1h-2zM72 507h2v2h-2zM82 277h11v1h-11zM94 277h5v1h-5zM94 391h5v1h-5zM106 277h1v1h-1zM224 277h4v1h-4zM291 277h2v1h-2zM291 508h2v1h-2zM294 277h2v1h-2zM337 277h4v1h-4zM395 277h5v1h-5zM449 277h2v1h-2zM449 391h2v1h-2zM449 499h2v2h-2zM459 277h6v1h-6zM505 277h2v1h-2zM505 390h2v1h-2zM550 277h8v1h-8zM567 277h5v1h-5zM567 523h5v1h-5zM648 277h4v1h-4zM648 392h4v1h-4zM658 277h2v1h-2zM663 277h2v1h-2zM667 277h5v1h-5zM225 278h106v1h-106zM338 278h41v1h-41zM395 278h56v1h-56zM461 278h36v1h-36zM506 278h88v1h-88zM648 278h16v1h-16zM46 290h3v1h-3zM46 310h3v1h-3zM46 416h3v1h-3zM46 480h3v1h-3zM49 291h1v3h-1zM49 311h1v3h-1zM49 412h1v4h-1zM49 442h1v5h-1zM49 476h1v4h-1zM48 294h1v1h-1zM48 314h1v1h-1zM48 441h1v1h-1zM48 447h1v1h-1zM46 296h1v1h-1zM46 316h1v1h-1zM46 441h1v1h-1zM46 447h1v1h-1zM388 336h2v7h-2zM388 472h2v3h-2zM498 343h3v1h-3zM497 348h2v1h-2zM497 430h2v23h-2zM334 377h1v2h-1zM334 500h1v3h-1zM334 517h1v5h-1zM453 378h1v2h-1zM453 488h1v2h-1zM379 380h2v1h-2zM223 383h1v3h-1zM223 507h1v1h-1zM454 383h4v2h-4zM455 385h4v1h-4zM378 386h2v1h-2zM378 501h2v7h-2zM394 386h1v1h-1zM457 386h2v1h-2zM504 386h1v2h-1zM224 387h2v3h-2zM394 387h2v2h-2zM458 387h2v1h-2zM458 503h2v2h-2zM337 388h2v2h-2zM458 388h3v1h-3zM504 388h2v1h-2zM645 388h4v1h-4zM121 389h1v1h-1zM395 389h2v1h-2zM459 389h3v1h-3zM505 389h1v1h-1zM553 389h1v1h-1zM553 506h1v1h-1zM647 389h2v1h-2zM647 498h2v2h-2zM338 390h3v2h-3zM395 390h3v1h-3zM551 390h4v1h-4zM568 390h3v1h-3zM568 515h3v1h-3zM663 390h1v2h-1zM663 498h1v7h-1zM668 390h2v1h-2zM668 506h2v1h-2zM82 391h9v1h-9zM100 391h2v1h-2zM225 391h4v1h-4zM396 391h4v1h-4zM461 391h4v1h-4zM550 391h6v1h-6zM566 391h7v1h-7zM648 391h3v1h-3zM668 391h4v1h-4zM72 392h52v1h-52zM227 392h5v1h-5zM270 392h2v1h-2zM286 392h19v1h-19zM339 392h13v1h-13zM398 392h12v1h-12zM448 392h2v1h-2zM462 392h9v1h-9zM506 392h3v1h-3zM549 392h11v1h-11zM565 392h9v1h-9zM657 392h7v1h-7zM669 392h9v1h-9zM72 393h11v1h-11zM91 393h4v1h-4zM98 393h120v1h-120zM229 393h101v1h-101zM340 393h39v1h-39zM398 393h52v1h-52zM465 393h32v1h-32zM506 393h44v1h-44zM556 393h11v1h-11zM572 393h22v1h-22zM649 393h36v1h-36zM41 408h1v1h-1zM41 410h1v6h-1zM41 440h1v1h-1zM41 442h1v6h-1zM40 409h2v1h-2zM40 441h2v1h-2zM39 410h1v1h-1zM39 442h1v1h-1zM47 411h2v1h-2zM47 475h2v1h-2zM45 412h2v1h-2zM45 476h2v1h-2zM39 416h5v1h-5zM39 448h5v1h-5zM496 453h3v2h-3zM499 458h1v32h-1zM219 466h2v1h-2zM381 478h3v1h-3zM382 479h2v7h-2zM593 487h2v9h-2zM330 490h4v2h-4zM332 492h2v6h-2zM453 493h3v3h-3zM453 501h3v1h-3zM665 493h3v1h-3zM457 494h1v2h-1zM663 494h5v1h-5zM663 495h3v3h-3zM667 495h1v8h-1zM389 496h2v1h-2zM593 496h4v1h-4zM333 498h1v1h-1zM333 516h1v1h-1zM333 522h1v1h-1zM592 498h4v1h-4zM665 498h1v1h-1zM333 499h2v1h-2zM456 499h3v2h-3zM592 499h1v5h-1zM592 516h1v1h-1zM592 522h1v1h-1zM406 500h1v1h-1zM461 500h1v3h-1zM647 500h4v1h-4zM406 501h2v1h-2zM429 501h2v1h-2zM647 501h1v2h-1zM649 501h3v2h-3zM406 502h5v1h-5zM429 502h3v1h-3zM439 502h2v1h-2zM439 507h2v2h-2zM447 502h3v2h-3zM405 503h6v1h-6zM412 503h2v1h-2zM426 503h6v1h-6zM433 503h2v1h-2zM439 503h5v1h-5zM461 503h2v3h-2zM567 503h1v1h-1zM567 516h1v2h-1zM567 522h1v1h-1zM650 503h2v5h-2zM667 503h2v1h-2zM407 504h9v1h-9zM418 504h1v1h-1zM422 504h2v1h-2zM422 517h2v1h-2zM426 504h10v1h-10zM438 504h12v1h-12zM566 504h2v1h-2zM591 504h2v2h-2zM645 504h2v5h-2zM658 504h1v1h-1zM668 504h1v2h-1zM404 505h2v1h-2zM407 505h2v2h-2zM410 505h14v1h-14zM425 505h25v1h-25zM464 505h2v1h-2zM566 505h4v1h-4zM662 505h2v1h-2zM94 506h3v1h-3zM216 506h2v1h-2zM347 506h1v1h-1zM349 506h1v1h-1zM365 506h2v1h-2zM368 506h1v1h-1zM402 506h4v1h-4zM410 506h12v1h-12zM425 506h16v1h-16zM446 506h4v2h-4zM459 506h10v1h-10zM495 506h2v1h-2zM566 506h1v2h-1zM591 506h1v3h-1zM591 517h1v5h-1zM656 506h4v1h-4zM662 506h1v2h-1zM82 507h4v1h-4zM94 507h1v2h-1zM96 507h1v1h-1zM216 507h1v2h-1zM216 516h1v3h-1zM216 520h1v3h-1zM326 507h4v1h-4zM343 507h34v1h-34zM391 507h15v1h-15zM407 507h1v1h-1zM409 507h9v1h-9zM421 507h1v2h-1zM421 518h1v2h-1zM425 507h1v1h-1zM428 507h8v1h-8zM459 507h11v1h-11zM495 507h1v2h-1zM550 507h2v1h-2zM653 507h1v1h-1zM656 507h1v1h-1zM669 507h5v1h-5zM79 508h10v1h-10zM96 508h3v1h-3zM104 508h7v1h-7zM177 508h1v1h-1zM177 517h1v5h-1zM326 508h3v1h-3zM336 508h10v1h-10zM371 508h1v1h-1zM371 520h1v1h-1zM371 532h1v4h-1zM376 508h4v1h-4zM393 508h12v1h-12zM414 508h4v1h-4zM423 508h3v1h-3zM428 508h4v1h-4zM446 508h2v1h-2zM460 508h15v1h-15zM548 508h10v1h-10zM563 508h4v1h-4zM569 508h3v1h-3zM586 508h2v1h-2zM649 508h1v1h-1zM651 508h6v1h-6zM659 508h4v1h-4zM669 508h16v1h-16zM115 515h3v1h-3zM128 515h1v1h-1zM128 523h1v1h-1zM134 515h1v1h-1zM134 523h1v1h-1zM168 515h1v2h-1zM168 518h1v3h-1zM168 522h1v2h-1zM179 515h1v1h-1zM179 523h1v1h-1zM185 515h1v1h-1zM185 523h1v1h-1zM236 515h1v1h-1zM236 523h1v1h-1zM268 515h3v1h-3zM268 519h3v1h-3zM268 523h3v1h-3zM281 515h1v1h-1zM281 523h1v1h-1zM287 515h1v1h-1zM287 523h1v1h-1zM332 515h1v1h-1zM332 523h1v1h-1zM440 515h1v1h-1zM440 523h1v1h-1zM472 515h3v1h-3zM472 523h3v1h-3zM485 515h1v1h-1zM485 523h1v1h-1zM523 515h3v1h-3zM523 519h3v1h-3zM523 523h3v1h-3zM536 515h1v1h-1zM536 523h1v1h-1zM542 515h1v1h-1zM542 523h1v1h-1zM575 515h1v1h-1zM575 523h1v1h-1zM587 515h1v1h-1zM587 523h1v1h-1zM593 515h1v1h-1zM593 523h1v1h-1zM619 515h3v1h-3zM625 515h3v1h-3zM638 515h1v1h-1zM638 523h1v1h-1zM644 515h1v1h-1zM644 523h1v1h-1zM109 516h1v1h-1zM109 522h1v1h-1zM111 516h1v1h-1zM111 522h1v1h-1zM114 516h1v2h-1zM114 522h1v1h-1zM118 516h1v3h-1zM129 516h1v1h-1zM129 522h1v1h-1zM133 516h1v1h-1zM133 522h1v1h-1zM135 516h1v1h-1zM135 522h1v1h-1zM160 516h1v1h-1zM160 522h1v1h-1zM162 516h1v1h-1zM162 522h1v1h-1zM178 516h1v1h-1zM178 522h1v1h-1zM180 516h1v1h-1zM180 522h1v1h-1zM184 516h1v1h-1zM184 522h1v1h-1zM186 516h1v1h-1zM186 522h1v1h-1zM211 516h1v1h-1zM211 522h1v1h-1zM213 516h1v1h-1zM213 522h1v1h-1zM229 516h1v1h-1zM229 522h1v1h-1zM231 516h1v1h-1zM231 522h1v1h-1zM235 516h1v1h-1zM235 522h1v1h-1zM271 516h1v3h-1zM271 520h1v3h-1zM280 516h1v1h-1zM280 522h1v1h-1zM288 516h1v1h-1zM288 522h1v1h-1zM313 516h2v1h-2zM319 516h1v1h-1zM319 522h1v1h-1zM337 516h1v1h-1zM337 522h1v1h-1zM364 516h2v1h-2zM364 531h2v1h-2zM415 516h2v1h-2zM439 516h1v1h-1zM439 522h1v1h-1zM466 516h2v1h-2zM492 516h1v1h-1zM492 522h1v1h-1zM517 516h2v1h-2zM522 516h1v3h-1zM522 520h1v3h-1zM526 516h1v3h-1zM526 520h1v3h-1zM535 516h1v1h-1zM535 522h1v1h-1zM537 516h1v1h-1zM537 522h1v1h-1zM541 516h1v1h-1zM541 522h1v1h-1zM543 516h1v1h-1zM543 522h1v1h-1zM571 516h1v3h-1zM574 516h1v1h-1zM574 522h1v1h-1zM576 516h1v1h-1zM576 522h1v1h-1zM586 516h1v1h-1zM586 522h1v1h-1zM588 516h1v1h-1zM588 522h1v1h-1zM618 516h1v2h-1zM618 522h1v1h-1zM622 516h1v3h-1zM624 516h1v2h-1zM624 522h1v1h-1zM628 516h1v3h-1zM637 516h1v1h-1zM637 522h1v1h-1zM639 516h1v1h-1zM639 522h1v1h-1zM643 516h1v1h-1zM643 522h1v1h-1zM108 517h1v5h-1zM112 517h1v5h-1zM122 517h1v1h-1zM122 519h1v1h-1zM122 522h1v1h-1zM122 524h1v1h-1zM126 517h1v5h-1zM130 517h1v5h-1zM132 517h1v5h-1zM159 517h1v5h-1zM163 517h1v5h-1zM167 517h2v1h-2zM173 517h1v1h-1zM173 519h1v1h-1zM173 522h1v1h-1zM173 524h1v1h-1zM181 517h1v5h-1zM183 517h1v5h-1zM210 517h1v5h-1zM214 517h1v5h-1zM228 517h1v5h-1zM232 517h1v5h-1zM275 517h1v1h-1zM275 519h1v1h-1zM275 522h1v1h-1zM275 524h1v1h-1zM279 517h1v5h-1zM283 517h1v5h-1zM322 517h1v5h-1zM326 517h1v1h-1zM326 519h1v1h-1zM326 522h1v1h-1zM326 524h1v1h-1zM336 517h1v5h-1zM377 517h1v1h-1zM377 519h1v1h-1zM377 522h1v1h-1zM377 524h1v1h-1zM414 517h1v1h-1zM438 517h1v5h-1zM479 517h1v1h-1zM479 519h1v1h-1zM479 522h1v1h-1zM479 524h1v1h-1zM516 517h1v1h-1zM530 517h1v1h-1zM530 519h1v1h-1zM530 522h1v1h-1zM530 524h1v1h-1zM534 517h1v5h-1zM538 517h1v5h-1zM540 517h1v5h-1zM573 517h1v5h-1zM577 517h1v5h-1zM581 517h1v1h-1zM581 519h1v1h-1zM581 522h1v1h-1zM581 524h1v1h-1zM585 517h1v5h-1zM589 517h1v5h-1zM632 517h1v1h-1zM632 519h1v1h-1zM632 522h1v1h-1zM632 524h1v1h-1zM636 517h1v5h-1zM640 517h1v5h-1zM642 517h1v5h-1zM121 518h3v1h-3zM121 523h3v1h-3zM166 518h1v2h-1zM172 518h3v1h-3zM172 523h3v1h-3zM274 518h3v1h-3zM274 523h3v1h-3zM376 518h3v1h-3zM376 523h3v1h-3zM376 531h3v1h-3zM376 536h3v1h-3zM427 518h3v1h-3zM427 523h3v1h-3zM478 518h3v1h-3zM478 523h3v1h-3zM529 518h3v1h-3zM529 523h3v1h-3zM580 518h3v1h-3zM580 523h3v1h-3zM631 518h3v1h-3zM631 523h3v1h-3zM216 519h4v1h-4zM471 519h4v1h-4zM570 519h1v1h-1zM621 519h1v1h-1zM627 519h1v1h-1zM116 520h1v1h-1zM165 520h1v1h-1zM626 520h1v1h-1zM115 521h1v1h-1zM165 521h5v1h-5zM420 521h5v1h-5zM568 521h1v1h-1zM619 521h1v1h-1zM625 521h1v1h-1zM114 523h5v1h-5zM363 523h5v1h-5zM369 523h5v1h-5zM465 523h5v1h-5zM516 523h5v1h-5zM618 523h5v1h-5zM624 523h5v1h-5zM393 528h5v1h-5zM357 531h4v1h-4zM369 531h2v1h-2zM359 536h2v1h-2zM364 536h3v1h-3z"/>
</svg>
</body>
</html>
